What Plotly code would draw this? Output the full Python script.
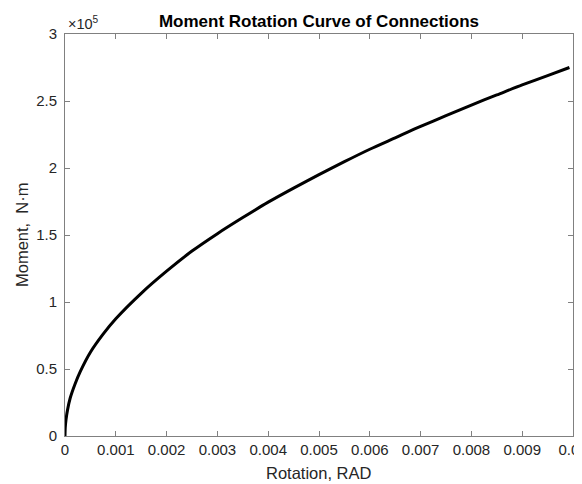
import plotly.graph_objects as go

# Rotation (rad) and moment (N·m)
rotation = [0, 0.000005, 0.00002, 0.00005, 0.0001, 0.0002, 0.0003, 0.0005,
            0.00075, 0.001, 0.0015, 0.002, 0.0025, 0.003, 0.0035, 0.004,
            0.0045, 0.005, 0.0055, 0.006, 0.0065, 0.007, 0.0075, 0.008,
            0.0085, 0.009, 0.0095, 0.00993]
moment = [0, 6200, 12300, 19500, 28000, 39000, 48000, 62500,
          76000, 87500, 106500, 123000, 138000, 151000, 163000, 174500,
          185000, 195000, 204700, 214000, 222500, 231000, 239000, 247000,
          254500, 262000, 269000, 275000]

x_ticks = [0, 0.001, 0.002, 0.003, 0.004, 0.005, 0.006, 0.007, 0.008, 0.009, 0.01]
x_tick_labels = ["0", "0.001", "0.002", "0.003", "0.004", "0.005", "0.006",
                 "0.007", "0.008", "0.009", "0.01"]
y_ticks = [0, 50000, 100000, 150000, 200000, 250000, 300000]
y_tick_labels = ["0", "0.5", "1", "1.5", "2", "2.5", "3"]

FONT = "Liberation Sans, Arial, sans-serif"
AX = "#808080"
TXT = "#262626"

# page body has an 8px margin, so the figure is 8px smaller than the window
W, H = 574, 476
ML, MR, MT, MB = 57, 9, 26, 48
PW, PH = W - ML - MR, H - MT - MB

fig = go.Figure()
fig.add_trace(go.Scatter(x=rotation, y=moment, mode="lines",
                         line=dict(color="black", width=3, shape="spline",
                                   smoothing=0.8),
                         hoverinfo="skip"))

axis_common = dict(showline=True, linecolor=AX, linewidth=1, mirror="ticks",
                   ticks="inside", ticklen=5, tickcolor=AX, tickwidth=1,
                   showgrid=False, zeroline=False, ticklabeloverflow="allow",
                   automargin=False,
                   tickfont=dict(family=FONT, size=15, color=TXT))

fig.update_layout(
    width=W, height=H, autosize=False,
    margin=dict(l=ML, r=MR, t=MT, b=MB),
    paper_bgcolor="white", plot_bgcolor="white",
    showlegend=False,
    title=dict(text="<b>Moment Rotation Curve of Connections</b>",
               font=dict(family=FONT, size=17, color="black"),
               x=0.5, xref="paper", xanchor="center",
               y=1 - 13 / H, yref="container", yanchor="middle"),
    xaxis=dict(range=[0, 0.01], tickvals=x_ticks, ticktext=x_tick_labels,
               **axis_common),
    yaxis=dict(range=[0, 300000], tickvals=y_ticks, ticktext=y_tick_labels,
               ticklabelstandoff=4, **axis_common),
    annotations=[
        dict(text="Rotation, RAD", xref="paper", yref="paper",
             x=0.5, y=-37 / PH, xanchor="center", yanchor="middle",
             showarrow=False, font=dict(family=FONT, size=16.5, color=TXT)),
        dict(text="Moment,  N·m", xref="paper", yref="paper",
             x=-43 / PW, y=0.5, xanchor="center", yanchor="middle",
             textangle=-90, showarrow=False,
             font=dict(family=FONT, size=16.5, color=TXT)),
        dict(text="×10<sup>5</sup>", xref="paper", yref="paper",
             x=0.002, y=1.0, xanchor="left", yanchor="bottom",
             showarrow=False, font=dict(family=FONT, size=14.5, color=TXT)),
    ],
)

fig.write_html("out.html")
